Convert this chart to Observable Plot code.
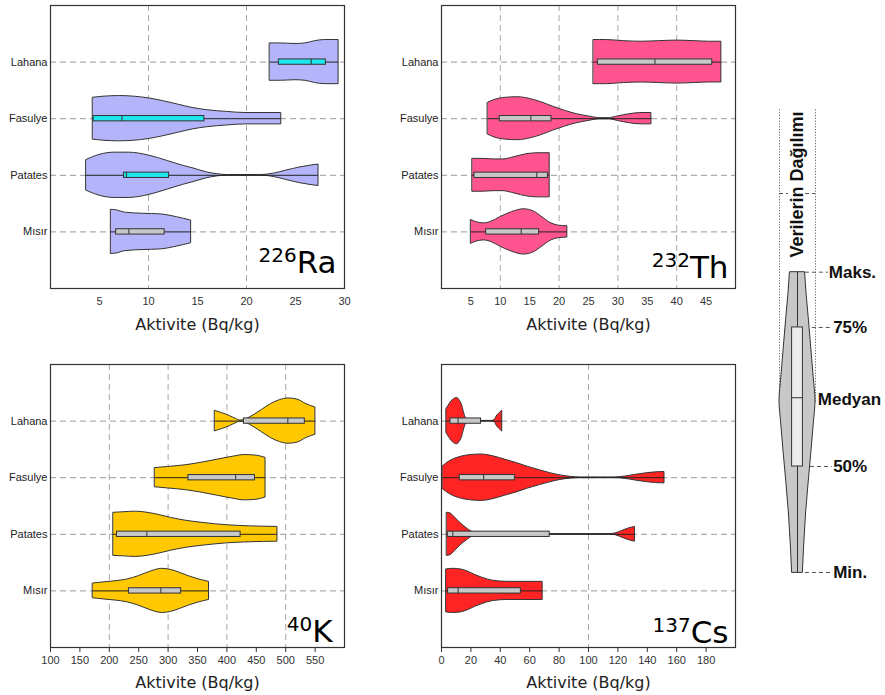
<!DOCTYPE html>
<html><head><meta charset="utf-8">
<script src="https://cdn.jsdelivr.net/npm/d3@7"></script>
<script src="https://cdn.jsdelivr.net/npm/@observablehq/plot@0.6"></script>
<style>
body{margin:0;background:#fff;}
#wrap{position:relative;width:885px;height:695px;overflow:hidden;background:#fff;}
#wrap > div{position:absolute;}
</style></head><body><div id="wrap"></div>
<script>
// ---------- data ----------
const categories = ["Mısır", "Patates", "Fasulye", "Lahana"];
const axisTitle = "Aktivite (Bq/kg)";

// [min, q1, median, q3, max] per category
const raStats = [[6.2, 6.7, 8.0, 11.65, 14.35], [3.67, 7.5, 7.75, 12.1, 27.35], [4.35, 4.4, 7.3, 15.7, 23.55], [22.4, 23.3, 26.6, 28.1, 29.4]];
const thStats = [[5.05, 7.6, 13.55, 16.6, 21.4], [5.3, 5.6, 16.2, 18.1, 18.4], [7.9, 9.9, 15.2, 18.7, 35.7], [25.9, 26.6, 36.3, 46.05, 47.6]];
const kStats  = [[172.4, 233.4, 287.7, 322.2, 369.6], [207.4, 213, 263.9, 423.3, 486], [278, 334.6, 414.9, 447.7, 465.7], [380, 429, 503.6, 532.5, 550.5]];
const csStats = [[3.4, 4.5, 11.3, 54, 68.8], [3.8, 4.3, 7.7, 73.6, 131.6], [0.9, 12.4, 28.7, 49.9, 151.7], [3.4, 6.1, 11.3, 26.9, 41.3]];

// violin outlines: [value, half-width of density]
const raShapes = [
  [[6.2,0.39],[6.8,0.38],[7.6,0.34],[9.5,0.32],[11.2,0.31],[12.9,0.26],[14.35,0.2]],
  [[3.67,0.27],[5,0.36],[6.5,0.4],[8,0.4],[10,0.35],[12,0.25],[13.5,0.17],[14.6,0.12],[16,0.05],[17,0.02],[18,0.005],[21.5,0.005],[22.8,0.03],[24,0.08],[25.5,0.14],[27.35,0.19]],
  [[4.35,0.37],[5.5,0.39],[7,0.4],[8.5,0.39],[10,0.36],[11.5,0.31],[13,0.25],[14.5,0.19],[16,0.15],[18,0.12],[20,0.1],[23.55,0.1]],
  [[22.4,0.33],[23.5,0.33],[25,0.32],[26,0.33],[27,0.37],[28,0.39],[29.4,0.39]]
];
const thShapes = [
  [[5.05,0.21],[6,0.17],[7.2,0.15],[8.5,0.18],[10,0.26],[12,0.35],[14,0.4],[15.7,0.36],[17,0.27],[18.5,0.16],[20,0.11],[21.4,0.1]],
  [[5.3,0.29],[7,0.29],[9,0.28],[10.5,0.28],[12,0.31],[13.5,0.35],[15,0.38],[16.5,0.39],[18.4,0.39]],
  [[7.9,0.28],[9,0.33],[11,0.37],[13,0.38],[15,0.35],[17,0.29],[19,0.21],[21,0.14],[23,0.08],[25,0.04],[27,0.01],[28.5,0.01],[30,0.04],[32,0.08],[34,0.1],[35.7,0.1]],
  [[25.9,0.39],[28,0.39],[31,0.37],[34,0.36],[37,0.37],[40,0.38],[43,0.37],[45.5,0.36],[47.6,0.36]]
];
const kShapes = [
  [[172.4,0.13],[190,0.15],[210,0.17],[230,0.2],[250,0.26],[270,0.34],[290,0.39],[305,0.37],[320,0.32],[335,0.26],[350,0.21],[369.6,0.16]],
  [[207.4,0.38],[225,0.39],[245,0.4],[265,0.38],[285,0.34],[305,0.29],[330,0.24],[360,0.2],[400,0.16],[440,0.14],[486,0.13]],
  [[278,0.17],[300,0.19],[330,0.22],[360,0.27],[385,0.32],[410,0.37],[430,0.4],[450,0.39],[465.7,0.35]],
  [[380,0.18],[392,0.14],[405,0.09],[415,0.04],[423,0.01],[432,0.03],[445,0.1],[460,0.2],[475,0.3],[490,0.37],[505,0.4],[520,0.38],[535,0.3],[550.5,0.24]]
];
const csShapes = [
  [[3.4,0.38],[8,0.39],[13,0.38],[18,0.34],[23,0.28],[28,0.23],[35,0.18],[45,0.16],[55,0.16],[68.8,0.16]],
  [[3.8,0.38],[6,0.37],[9,0.3],[12,0.22],[15,0.15],[18,0.09],[21,0.04],[24,0.01],[27,0.003],[115,0.003],[119,0.02],[123,0.06],[127,0.1],[131.6,0.13]],
  [[0.9,0.2],[5,0.28],[12,0.36],[20,0.4],[27,0.41],[35,0.38],[43,0.32],[51,0.26],[59,0.19],[67,0.13],[74,0.08],[81,0.04],[88,0.015],[95,0.004],[118,0.004],[125,0.02],[132,0.05],[140,0.08],[146,0.095],[151.7,0.1]],
  [[3.4,0.21],[5.5,0.3],[8,0.38],[10.5,0.41],[12.5,0.36],[14,0.28],[15,0.18],[16,0.09],[17.5,0.03],[19,0.01],[21,0.003],[34,0.003],[36.2,0.02],[37.5,0.08],[39.5,0.14],[41.3,0.185]]
];

const raTicks = [5, 10, 15, 20, 25, 30];
const thTicks = [5, 10, 15, 20, 25, 30, 35, 40, 45];
const kTicks  = [100, 150, 200, 250, 300, 350, 400, 450, 500, 550];
const csTicks = [0, 20, 40, 60, 80, 100, 120, 140, 160, 180];
const raGrid = [10, 20, 30];
const thGrid = [10, 20, 30, 40];
const kGrid  = [200, 300, 400, 500];
const csGrid = [100];

// legend (schematic): position 0 = Min., 1 = Maks.
const legendShape = [[0,0.3],[0.1,0.38],[0.2,0.48],[0.3,0.62],[0.4,0.77],[0.5,0.91],[0.57,1.0],[0.65,0.9],[0.75,0.76],[0.85,0.62],[0.93,0.5],[1,0.42]];
const legendBox = [0.353, 0.582, 0.816]; // lower quartile, median, upper quartile
const legendLabels = ["Min.", "50%", "Medyan", "75%", "Maks."];
const legendLabelPos = [0, 0.353, 0.576, 0.816, 1];
const legendTitle = "Verilerin Dağılımı";

// ---------- drawing ----------
const wrap = document.getElementById("wrap");
const tickFont = "'Liberation Sans', Arial, Helvetica, sans-serif";

function panel(o) {
  const violin = o.shapes.flatMap((pts, i) => pts.map(([v, w]) => ({cat: i + 1, v, w})));
  const boxes = o.stats.map((s, i) => ({cat: i + 1, min: s[0], q1: s[1], med: s[2], q3: s[3], max: s[4], fill: o.boxFills[i]}));
  const bh = 0.047;
  const svg = Plot.plot({
    width: 360, height: o.height,
    marginLeft: o.ml, marginRight: o.mr, marginTop: o.mt, marginBottom: o.mb,
    style: {fontFamily: tickFont, fontSize: "11px", background: "transparent", color: "#333"},
    x: {domain: o.domain},
    y: {domain: [0, 5]},
    color: {type: "identity"},
    marks: [
      Plot.ruleX(o.grid, {stroke: "#a8a8a8", strokeDasharray: "6,4", strokeWidth: 1}),
      Plot.ruleY([1, 2, 3, 4], {stroke: "#999", strokeDasharray: "6,4", strokeWidth: 1}),
      Plot.areaY(violin, {x: "v", y1: d => d.cat - d.w, y2: d => d.cat + d.w, z: "cat", fill: o.fill, stroke: "#333", strokeWidth: 1, curve: "monotone-x"}),
      Plot.ruleY(boxes, {y: "cat", x1: "min", x2: "max", stroke: "#222", strokeWidth: 1}),
      Plot.rect(boxes, {x1: "q1", x2: "q3", y1: d => d.cat - bh, y2: d => d.cat + bh, fill: "fill", stroke: "#333", strokeWidth: 1}),
      Plot.ruleX(boxes, {x: "med", y1: d => d.cat - bh, y2: d => d.cat + bh, stroke: "#333", strokeWidth: 1}),
      Plot.frame({stroke: "#333", strokeWidth: 1.2}),
      Plot.axisX({ticks: o.ticks, tickSize: o.tickSize, tickPadding: o.tickPadding, label: null, fontSize: 11, color: "#333"}),
      Plot.axisY({ticks: [1, 2, 3, 4], tickFormat: d => categories[d - 1], tickSize: 0, tickPadding: 3, label: null, fontSize: 11, color: "#222"}),
      Plot.text([axisTitle], {text: d => d, frameAnchor: "bottom", dy: o.titleDy, lineAnchor: "middle", fontSize: 16, fontFamily: "'DejaVu Sans', sans-serif", fill: "#222"}),
      Plot.text([o.isoSym], {text: d => d, frameAnchor: "bottom-right", textAnchor: "end", lineAnchor: "bottom", dx: o.isoDx, dy: o.isoDy, fontSize: 31, fontFamily: "'DejaVu Sans', sans-serif", fill: "#000"})
    ]
  });
  // superscript mass number
  svg.querySelectorAll("text").forEach(t => {
    if (t.textContent === o.isoSym) {
      t.textContent = "";
      const ns = "http://www.w3.org/2000/svg";
      const a = document.createElementNS(ns, "tspan");
      a.setAttribute("font-size", "20");
      a.setAttribute("dy", "-11");
      a.textContent = o.isoMass;
      const b = document.createElementNS(ns, "tspan");
      b.setAttribute("dy", "11");
      b.textContent = o.isoSym;
      t.appendChild(a); t.appendChild(b);
    }
  });
  const div = document.createElement("div");
  div.style.left = o.left + "px"; div.style.top = o.top + "px";
  div.appendChild(svg);
  wrap.appendChild(div);
}

const topRow = {height: 340, mt: 5, mb: 52, tickSize: 0, tickPadding: 9, titleDy: 36, top: 0};
const botRow = {height: 345, mt: 14, mb: 48, tickSize: 5, tickPadding: 4, titleDy: 35, top: 350};

panel({...topRow, left: 0, ml: 50, mr: 16, stats: raStats, shapes: raShapes, domain: [0, 30], ticks: raTicks, grid: raGrid,
  fill: "#b4b4fa", boxFills: ["#c8c8c8", "#1ee6ee", "#1ee6ee", "#1ee6ee"], isoSym: "Ra", isoMass: "226", isoDx: -8, isoDy: -16});
panel({...topRow, left: 390, ml: 51, mr: 15, stats: thStats, shapes: thShapes, domain: [0, 50], ticks: thTicks, grid: thGrid,
  fill: "#ff5490", boxFills: ["#c8c8c8", "#c8c8c8", "#c8c8c8", "#c8c8c8"], isoSym: "Th", isoMass: "232", isoDx: -7, isoDy: -11});
panel({...botRow, left: 0, ml: 50, mr: 16, stats: kStats, shapes: kShapes, domain: [100, 600], ticks: kTicks, grid: kGrid,
  fill: "#ffc800", boxFills: ["#c8c8c8", "#c8c8c8", "#c8c8c8", "#c8c8c8"], isoSym: "K", isoMass: "40", isoDx: -12, isoDy: -6});
panel({...botRow, left: 390, ml: 51, mr: 15, stats: csStats, shapes: csShapes, domain: [0, 200], ticks: csTicks, grid: csGrid,
  fill: "#ff2424", boxFills: ["#c8c8c8", "#c8c8c8", "#c8c8c8", "#c8c8c8"], isoSym: "Cs", isoMass: "137", isoDx: -7, isoDy: -5});

// legend
(function () {
  const shape = legendShape.map(([p, w]) => ({p, w}));
  const labels = legendLabels.map((l, i) => ({label: l, pos: legendLabelPos[i]}));
  const leaders = [{y: 0, x1: 0.44, x2: 1.93}, {y: legendBox[0], x1: 0.72, x2: 1.93}, {y: legendBox[2], x1: 0.82, x2: 1.93}, {y: 1, x1: 0.44, x2: 1.72}];
  const bw = 0.3;
  const bold = {fontWeight: "bold", fontFamily: tickFont, fill: "#111"};
  const svg = Plot.plot({
    width: 135, height: 510, margin: 0,
    style: {background: "transparent", fontFamily: tickFont},
    x: {domain: [-1, 1], range: [29, 65], axis: null},
    y: {domain: [0, 1], range: [482, 181.7], axis: null},
    marks: [
      Plot.ruleX([-1, 1], {y1: 0.567, y2: 1.545, stroke: "#666", strokeDasharray: "1.2,1.6"}),
      Plot.ruleY([1.262], {x1: -1, x2: -0.5, stroke: "#555", strokeDasharray: "4,3"}),
      Plot.ruleY([1.262], {x1: 0.45, x2: 1, stroke: "#555", strokeDasharray: "4,3"}),
      Plot.text([legendTitle], {text: d => d, x: 0, y: 1.292, rotate: -90, textAnchor: "middle", lineAnchor: "middle", fontSize: 18, ...bold}),
      Plot.ruleY(leaders, {y: "y", x1: "x1", x2: "x2", stroke: "#555", strokeDasharray: "4,3"}),
      Plot.areaX(shape, {y: "p", x1: d => -d.w, x2: d => d.w, fill: "#c8c8c8", stroke: "#333", strokeWidth: 1, curve: "monotone-y"}),
      Plot.ruleX([0], {y1: 0, y2: 1, stroke: "#333"}),
      Plot.rect([legendBox], {x1: -bw, x2: bw, y1: d => d[0], y2: d => d[2], fill: "#ececec", stroke: "#333"}),
      Plot.ruleY([legendBox[1]], {x1: -bw, x2: bw, stroke: "#333"}),
      Plot.text(labels.filter(d => d.label !== "Medyan" && d.label !== "Maks."), {text: "label", x: 1.98, y: "pos", textAnchor: "start", fontSize: 17, ...bold}),
      Plot.text(labels.filter(d => d.label === "Maks."), {text: "label", x: 1.74, y: "pos", textAnchor: "start", fontSize: 17, ...bold}),
      Plot.text(labels.filter(d => d.label === "Medyan"), {text: "label", x: 1.13, y: "pos", textAnchor: "start", fontSize: 17, ...bold})
    ]
  });
  const div = document.createElement("div");
  div.style.left = "750px"; div.style.top = "90px";
  div.appendChild(svg);
  wrap.appendChild(div);
})();
</script></body></html>
